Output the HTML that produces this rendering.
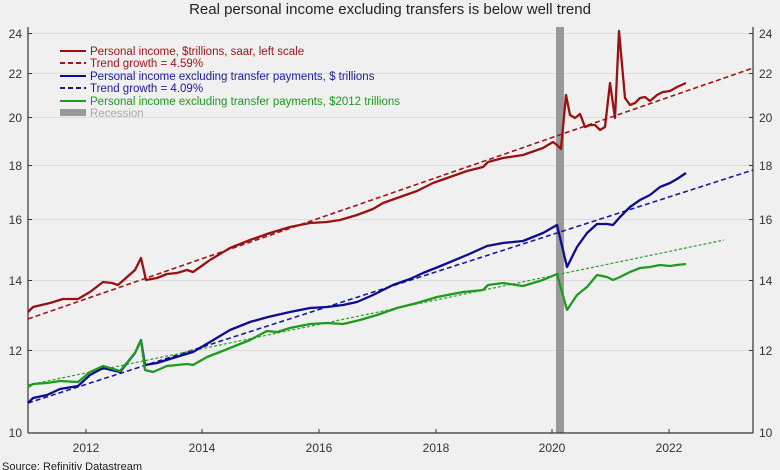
<!DOCTYPE html>
<html><head><meta charset="utf-8"><style>
body{margin:0;background:#f0f0f0;}
svg{display:block;font-family:"Liberation Sans",sans-serif;}
</style></head><body>
<svg width="780" height="470" viewBox="0 0 780 470" xmlns="http://www.w3.org/2000/svg">
<rect width="780" height="470" fill="#f0f0f0"/>
<text x="390" y="14" font-size="15" text-anchor="middle" fill="#222">Real personal income excluding transfers is below well trend</text>
<g stroke="#dcdcdc" stroke-width="1">
<line x1="28" x2="753" y1="350.5" y2="350.5"/><line x1="28" x2="753" y1="280.5" y2="280.5"/>
<line x1="28" x2="753" y1="219.5" y2="219.5"/><line x1="28" x2="753" y1="165.5" y2="165.5"/>
<line x1="28" x2="753" y1="117.5" y2="117.5"/><line x1="28" x2="753" y1="73.5" y2="73.5"/>
<line x1="28" x2="753" y1="33.5" y2="33.5"/>
</g>
<rect x="556" y="27" width="8" height="406" fill="#999"/>
<g stroke="#333" stroke-width="1.2" fill="none">
<line x1="28" y1="27" x2="28" y2="433"/><line x1="753" y1="27" x2="753" y2="433"/>
<line x1="28" y1="433" x2="753" y2="433"/>
</g>
<g stroke="#333" stroke-width="1">
<path d="M28 350.5h4M28 280.5h4M28 219.5h4M28 165.5h4M28 117.5h4M28 73.5h4M28 33.5h4"/>
<path d="M749 350.5h4M749 280.5h4M749 219.5h4M749 165.5h4M749 117.5h4M749 73.5h4M749 33.5h4"/>
<path d="M86 433v-4M202 433v-4M319 433v-4M436 433v-4M552 433v-4M669 433v-4"/>
</g>
<g font-size="12" fill="#333" text-anchor="end">
<text x="22" y="437">10</text><text x="22" y="355">12</text><text x="22" y="285">14</text><text x="22" y="224">16</text><text x="22" y="170">18</text><text x="22" y="122">20</text><text x="22" y="78">22</text><text x="22" y="38">24</text>
</g>
<g font-size="12" fill="#333">
<text x="759" y="437">10</text><text x="759" y="355">12</text><text x="759" y="285">14</text><text x="759" y="224">16</text><text x="759" y="170">18</text><text x="759" y="122">20</text><text x="759" y="78">22</text><text x="759" y="38">24</text>
</g>
<g font-size="12" fill="#333" text-anchor="middle">
<text x="86" y="452">2012</text><text x="202" y="452">2014</text><text x="319" y="452">2016</text><text x="436" y="452">2018</text><text x="552" y="452">2020</text><text x="669" y="452">2022</text>
</g>
<text x="2" y="470" font-size="11" fill="#222">Source: Refinitiv Datastream</text>
<line x1="28" y1="319" x2="753" y2="68" stroke="#a31515" stroke-width="1.6" stroke-dasharray="5,3"/>
<line x1="28" y1="403" x2="753" y2="170" stroke="#1a1aa0" stroke-width="1.6" stroke-dasharray="5,3"/>
<line x1="28" y1="385" x2="724" y2="240" stroke="#2ca02c" stroke-width="1.2" stroke-dasharray="3,2"/>
<g fill="none" stroke-width="2.3" stroke-linejoin="round">
<polyline stroke="#9b1111" points="28,312 33,307 50,303 63,299 78,299 90,292 103,282 112,283 118,285 135,270 141,258 146,280 157,278 167,274 177,273 187,270 193,272 203,265 210,260 230,248 250,240 270,233 290,227 310,223 327,222 340,220 357,215 373,209 383,203 400,197 417,191 433,183 450,177 467,171 483,167 488,162 503,158 523,155 543,148 553,142 557,145 561,149 566,95 570,115 575,118 580,114 585,127 590,125 595,125 600,130 605,127 610,83 615,118 619,31 625,98 630,105 635,103 640,98 645,97 650,101 657,95 663,92 670,91 677,87 686,83"/>
<polyline stroke="#0c0c90" points="28,403 33,398 47,395 60,389 78,386 90,375 103,368 120,372 135,353 141,340 145,365 157,363 173,358 193,352 210,342 230,330 250,322 268,317 290,312 310,308 327,307 343,305 357,302 373,295 393,285 410,279 423,273 443,265 467,255 487,246 503,243 523,241 543,233 557,225 567,267 577,247 587,233 597,224 607,224 613,225 620,217 630,207 640,200 650,195 660,187 670,183 677,179 686,173"/>
<polyline stroke="#1e9a1e" points="28,387 33,384 47,383 60,381 78,382 90,372 103,366 120,371 135,353 141,340 145,370 153,372 167,366 187,364 193,365 207,357 220,352 250,340 267,331 277,332 290,328 310,324 327,323 343,324 360,320 377,315 397,308 417,303 437,297 463,292 483,290 488,285 503,283 523,286 543,280 557,274 567,310 577,295 587,287 597,275 607,277 613,280 620,277 630,272 640,268 650,267 660,265 670,266 677,265 686,264"/>
</g>
<g stroke-width="2">
<line x1="60" y1="51" x2="86" y2="51" stroke="#9b1111"/>
<line x1="60" y1="63" x2="86" y2="63" stroke="#a31515" stroke-dasharray="5,3"/>
<line x1="60" y1="76" x2="86" y2="76" stroke="#0c0c90"/>
<line x1="60" y1="88" x2="86" y2="88" stroke="#1a1aa0" stroke-dasharray="5,3"/>
<line x1="60" y1="101" x2="86" y2="101" stroke="#1e9a1e"/>
</g>
<rect x="60" y="109" width="26" height="7" fill="#999"/>
<g font-size="11.5">
<text x="90" y="55" fill="#a31515">Personal income, $trillions, saar, left scale</text>
<text x="90" y="67" fill="#a31515">Trend growth = 4.59%</text>
<text x="90" y="80" fill="#1a1aa0">Personal income excluding transfer payments, $ trillions</text>
<text x="90" y="92" fill="#1a1aa0">Trend growth = 4.09%</text>
<text x="90" y="105" fill="#1e9a1e">Personal income excluding transfer payments, $2012 trillions</text>
<text x="90" y="117" fill="#aaa">Recession</text>
</g>
</svg>
</body></html>
